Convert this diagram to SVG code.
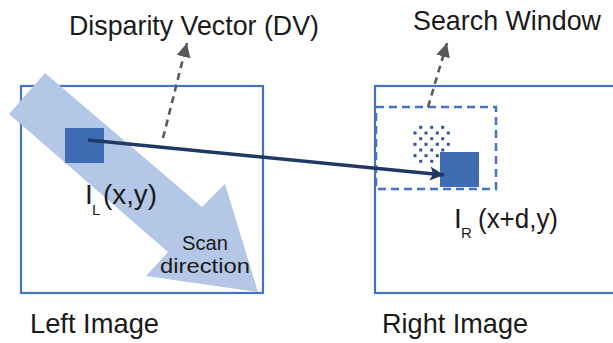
<svg xmlns="http://www.w3.org/2000/svg" width="613" height="343" viewBox="0 0 613 343">
<style>
text{font-family:"Liberation Sans",Arial,sans-serif;fill:#1a1a1a}
.lbl{font-size:28px}
.sub{font-size:15px}
.small{font-size:20px}
.frame{fill:none;stroke:#4472c4;stroke-width:2.2}
.blk{fill:#3f6cb3}
.dot{fill:#2f5597}
.gray{fill:none;stroke:#595959;stroke-width:2.6;stroke-dasharray:7 5}
</style>
<defs>
<marker id="ga" markerUnits="userSpaceOnUse" markerWidth="16" markerHeight="14" refX="14" refY="7" orient="auto">
<path d="M0,0 L14,7 L0,14 Z" fill="#595959"/>
</marker>
<marker id="na" markerUnits="userSpaceOnUse" markerWidth="16" markerHeight="14" refX="14" refY="7" orient="auto">
<path d="M0,0 L14,7 L0,14 L3,7 Z" fill="#1f3864"/>
</marker>
</defs>
<g id="left-image">
<rect class="frame" x="21" y="86" width="242" height="207"/>
<text class="lbl" x="30" y="333" textLength="129" lengthAdjust="spacingAndGlyphs">Left Image</text>
</g>
<g id="right-image">
<rect class="frame" x="375" y="86" width="250" height="207"/>
<text class="lbl" x="382" y="333" textLength="146" lengthAdjust="spacingAndGlyphs">Right Image</text>
</g>
<g id="scan-direction">
<polygon points="45,73 202,207 225,184 258,292 146,276 168,252 9,114" fill="#b4c7e7"/>
<text class="small" x="182" y="250" textLength="46" lengthAdjust="spacingAndGlyphs">Scan</text>
<text class="small" x="160" y="273" textLength="90" lengthAdjust="spacingAndGlyphs">direction</text>
</g>
<g id="search-window">
<rect x="376" y="107" width="120" height="82" fill="none" stroke="#4472c4" stroke-width="2.5" stroke-dasharray="8 5"/>
<text class="lbl" x="413" y="30" textLength="188" lengthAdjust="spacingAndGlyphs">Search Window</text>
</g>
<g id="candidate-block">
<rect class="dot" x="419.2" y="125.8" width="3" height="3"/><rect class="dot" x="430.2" y="125.8" width="3" height="3"/><rect class="dot" x="441.2" y="125.8" width="3" height="3"/>
<rect class="dot" x="413.5" y="131.5" width="3" height="3"/><rect class="dot" x="424.5" y="131.5" width="3" height="3"/><rect class="dot" x="435.8" y="131.5" width="3" height="3"/><rect class="dot" x="446.8" y="131.5" width="3" height="3"/>
<rect class="dot" x="419.2" y="137.2" width="3" height="3"/><rect class="dot" x="430.2" y="137.2" width="3" height="3"/><rect class="dot" x="441.2" y="137.2" width="3" height="3"/>
<rect class="dot" x="413.5" y="142.8" width="3" height="3"/><rect class="dot" x="424.5" y="142.8" width="3" height="3"/><rect class="dot" x="435.8" y="142.8" width="3" height="3"/><rect class="dot" x="446.8" y="142.8" width="3" height="3"/>
<rect class="dot" x="419.2" y="148.5" width="3" height="3"/><rect class="dot" x="430.2" y="148.5" width="3" height="3"/><rect class="dot" x="441.2" y="148.5" width="3" height="3"/>
<rect class="dot" x="413.5" y="154.2" width="3" height="3"/><rect class="dot" x="424.5" y="154.2" width="3" height="3"/><rect class="dot" x="435.8" y="154.2" width="3" height="3"/>
<rect class="dot" x="419.2" y="159.8" width="3" height="3"/><rect class="dot" x="430.2" y="159.8" width="3" height="3"/>
</g>
<g id="block-left">
<rect class="blk" x="65" y="128" width="39" height="35"/>
<text class="lbl" x="85" y="204">I</text>
<text class="sub" x="92" y="215">L</text>
<text class="lbl" x="103" y="204" textLength="54" lengthAdjust="spacingAndGlyphs">(x,y)</text>
</g>
<g id="block-right">
<rect class="blk" x="440" y="152" width="39" height="35"/>
<text class="lbl" x="454" y="228">I</text>
<text class="sub" x="461" y="238">R</text>
<text class="lbl" x="478" y="228" textLength="80" lengthAdjust="spacingAndGlyphs">(x+d,y)</text>
</g>
<g id="dv-label">
<text class="lbl" x="69" y="35" textLength="250" lengthAdjust="spacingAndGlyphs">Disparity Vector (DV)</text>
</g>
<g id="connectors">
<line x1="88" y1="140" x2="444" y2="175" stroke="#1f3864" stroke-width="3.5" marker-end="url(#na)"/>
<line class="gray" x1="163" y1="138" x2="187" y2="43" marker-end="url(#ga)"/>
<line class="gray" x1="428" y1="107" x2="447" y2="43" marker-end="url(#ga)"/>
</g>
</svg>
